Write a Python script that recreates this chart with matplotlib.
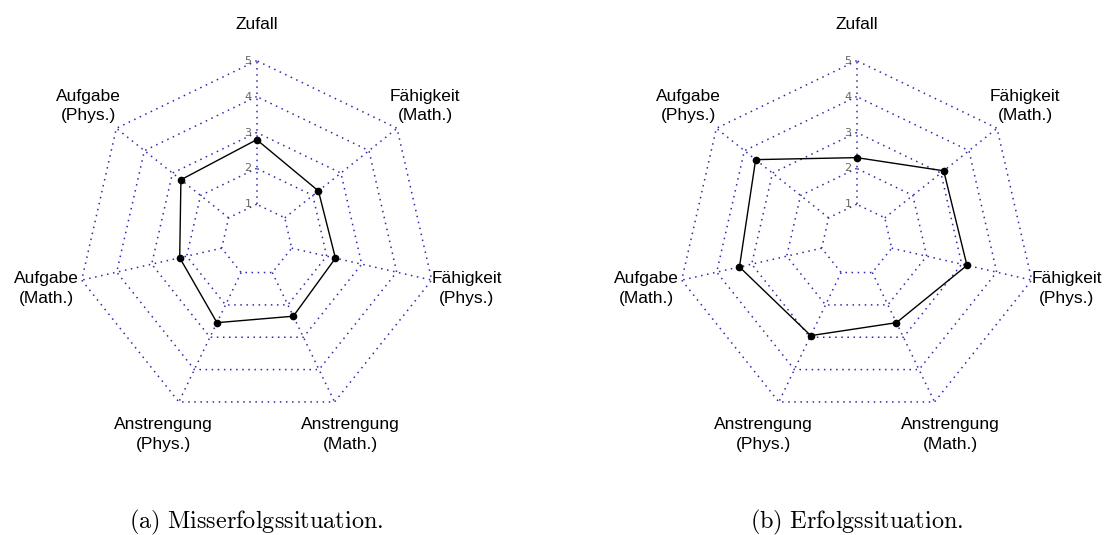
import numpy as np
import matplotlib
matplotlib.use("Agg")
import matplotlib.pyplot as plt

plt.rcParams['mathtext.fontset'] = 'cm'

# axes, counterclockwise starting at the top
achsen = ['Zufall', 'Aufgabe\n(Phys.)', 'Aufgabe\n(Math.)', 'Anstrengung\n(Phys.)',
          'Anstrengung\n(Math.)', 'Fähigkeit\n(Phys.)', 'Fähigkeit\n(Math.)']
misserfolg = [2.8, 2.7, 2.2, 2.55, 2.35, 2.25, 2.2]
erfolg = [2.3, 3.6, 3.35, 2.95, 2.55, 3.15, 3.1]
stufen = [1, 2, 3, 4, 5]
titel = [r'$\mathrm{(a)\ Misserfolgssituation.}$', r'$\mathrm{(b)\ Erfolgssituation.}$']

W, H = 1105, 535
fig = plt.figure(figsize=(W / 100, H / 100), dpi=100)

n = len(achsen)
winkel = np.pi / 2 + np.arange(n) * 2 * np.pi / n
einheit = 35.9      # pixel per value unit
halb = 230          # half side of axes in pixel
gitter = '#2c2cae'


def radar(cx, cy, werte, caption):
    ax = fig.add_axes([(cx - halb) / W, (H - cy - halb) / H, 2 * halb / W, 2 * halb / H])
    lim = halb / einheit
    ax.set_xlim(-lim, lim)
    ax.set_ylim(-lim, lim)
    ax.axis('off')

    # rings
    for s in stufen:
        xs = s * np.cos(np.append(winkel, winkel[0]))
        ys = s * np.sin(np.append(winkel, winkel[0]))
        ax.plot(xs, ys, color=gitter, lw=1.1, ls=(0, (1, 3)))
    # spokes
    for w in winkel:
        ax.plot([stufen[0] * np.cos(w), stufen[-1] * np.cos(w)],
                [stufen[0] * np.sin(w), stufen[-1] * np.sin(w)],
                color=gitter, lw=1.1, ls=(0, (1, 3)))
    # scale labels
    for s in stufen:
        ax.text(-0.24, s, str(s), ha='center', va='center', fontsize=8, color='#666666')

    # data
    v = np.array(werte)
    xs = v * np.cos(winkel)
    ys = v * np.sin(winkel)
    ax.plot(np.append(xs, xs[0]), np.append(ys, ys[0]), color='black', lw=1)
    ax.plot(xs, ys, 'o', color='black', ms=4.5)

    # axis names
    for w, name in zip(winkel, achsen):
        ax.text(6 * np.cos(w), 6 * np.sin(w), name, ha='center', va='center',
                fontsize=12.5, family='Liberation Sans', linespacing=1.4)

    fig.text(cx / W, 1 - 522 / H, caption, ha='center', va='center', fontsize=17.5)


radar(256.7, 240.2, misserfolg, titel[0])
radar(856.7, 240.2, erfolg, titel[1])

plt.savefig('out.png', dpi=100)
